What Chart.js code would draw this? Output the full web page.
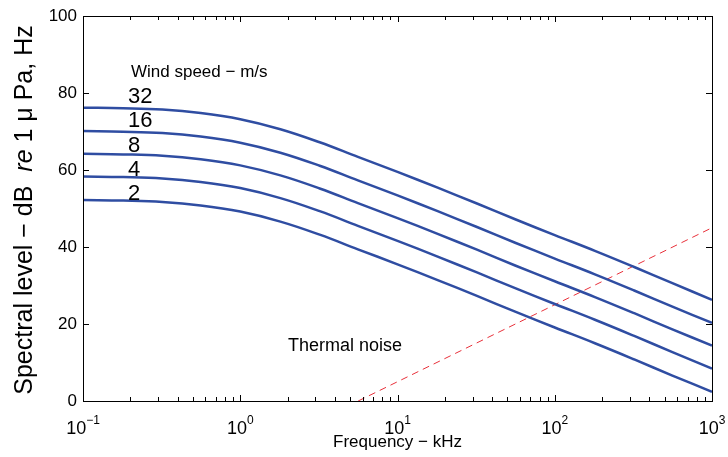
<!DOCTYPE html>
<html lang="en">
<head>
  <meta charset="UTF-8">
  <title>Wind noise spectra</title>
  <script src="https://cdn.jsdelivr.net/npm/chart.js"></script>
  <style>
    body { margin: 0; background: #fff; }
    canvas { display: block; }
  </style>
</head>
<body>
  <canvas id="chart" width="728" height="457"></canvas>

  <script>
    // frequencies in kHz (quarter-decade steps)
    const freqs = [0.1, 0.18, 0.32, 0.56, 1, 1.8, 3.2, 5.6, 10, 18, 32, 56, 100, 180, 320, 560, 1000];

    // spectral level (dB) per wind speed
    const wind32 = [76.2, 76.05, 75.7, 74.8, 73.2, 70.6, 67.2, 63.4, 59.5, 55.4, 51.3, 47.2, 43.1, 39.0, 34.8, 30.6, 26.3];
    const wind16 = [70.1, 69.95, 69.6, 68.7, 67.1, 64.5, 61.1, 57.3, 53.4, 49.3, 45.2, 41.1, 37.0, 32.9, 28.7, 24.5, 20.3];
    const wind8  = [64.2, 64.05, 63.7, 62.8, 61.2, 58.6, 55.2, 51.4, 47.5, 43.4, 39.3, 35.2, 31.1, 27.0, 22.8, 18.6, 14.4];
    const wind4  = [58.3, 58.15, 57.8, 56.9, 55.3, 52.7, 49.3, 45.5, 41.6, 37.5, 33.4, 29.3, 25.2, 21.1, 16.9, 12.7, 8.4];
    const wind2  = [52.2, 52.05, 51.7, 50.8, 49.2, 46.6, 43.2, 39.4, 35.5, 31.4, 27.3, 23.2, 19.1, 15.0, 10.8, 6.6, 2.4];

    const windLabels = ['32', '16', '8', '4', '2'];
    const windSeries = [wind32, wind16, wind8, wind4, wind2];

    const thermalFreqs = [5.62, 1000];
    const thermalLevels = [0, 45];

    const yTicks = [0, 20, 40, 60, 80, 100];
    const xDecades = [-1, 0, 1, 2, 3];

    const BLUE = '#2f4da2';
    const FONT = '"Liberation Sans", Arial, sans-serif';

    const pts = (xs, ys) => xs.map((x, i) => ({ x: x, y: ys[i] }));

    const datasets = windSeries.map((s, i) => ({
      label: windLabels[i] + ' m/s',
      data: pts(freqs, s),
      borderColor: BLUE,
      borderWidth: 2.5,
      pointRadius: 0,
      tension: 0.4
    }));
    datasets.push({
      label: 'Thermal noise',
      data: pts(thermalFreqs, thermalLevels),
      borderColor: '#e8303a',
      borderWidth: 1,
      borderDash: [7, 5],
      pointRadius: 0
    });

    // axes frame, ticks, labels and annotations in MATLAB style
    const decor = {
      id: 'decor',
      afterDraw(chart) {
        const ctx = chart.ctx;
        const a = chart.chartArea;
        const xs = chart.scales.x, ys = chart.scales.y;
        ctx.save();
        ctx.strokeStyle = '#000';
        ctx.lineWidth = 1;
        ctx.strokeRect(a.left + 0.5, a.top + 0.5, a.right - a.left, a.bottom - a.top);

        // x ticks (major + minor), inside on bottom and top
        ctx.beginPath();
        xDecades.forEach(d => {
          for (let m = 1; m <= 9; m++) {
            const v = m * Math.pow(10, d);
            if (v > 1000) break;
            const px = Math.round(xs.getPixelForValue(v)) + 0.5;
            const len = m === 1 ? 6 : 4;
            ctx.moveTo(px, a.bottom); ctx.lineTo(px, a.bottom - len);
            ctx.moveTo(px, a.top); ctx.lineTo(px, a.top + len);
          }
        });
        yTicks.forEach(v => {
          const py = Math.round(ys.getPixelForValue(v)) + 0.5;
          ctx.moveTo(a.left, py); ctx.lineTo(a.left + 6, py);
          ctx.moveTo(a.right, py); ctx.lineTo(a.right - 6, py);
        });
        ctx.stroke();

        ctx.fillStyle = '#000';
        // y tick labels
        ctx.font = '17px ' + FONT;
        ctx.textAlign = 'right';
        ctx.textBaseline = 'middle';
        yTicks.forEach(v => ctx.fillText(String(v), a.left - 6, ys.getPixelForValue(v)));

        // x tick labels with superscript exponents
        xDecades.forEach(d => {
          const px = xs.getPixelForValue(Math.pow(10, d));
          const ex = String(d).replace('-', '\u2212');
          ctx.font = '18px ' + FONT;
          const wb = ctx.measureText('10').width;
          ctx.font = '12px ' + FONT;
          const we = ctx.measureText(ex).width;
          const x0 = px - (wb + we) / 2;
          ctx.textAlign = 'left';
          ctx.textBaseline = 'alphabetic';
          ctx.font = '18px ' + FONT;
          ctx.fillText('10', x0, 434);
          ctx.font = '12px ' + FONT;
          ctx.fillText(ex, x0 + wb, 424);
        });

        // x title
        ctx.font = '17px ' + FONT;
        ctx.textAlign = 'center';
        ctx.textBaseline = 'middle';
        ctx.fillText('Frequency \u2212 kHz', (a.left + a.right) / 2, 442);

        // y title with italic "re"
        const parts = [
          ['Spectral level \u2212 dB  ', 'normal'],
          ['re', 'italic'],
          [' 1 \u03bc Pa, Hz', 'normal']
        ];
        ctx.save();
        ctx.translate(25, 210);
        ctx.rotate(-Math.PI / 2);
        ctx.textBaseline = 'middle';
        let total = 0;
        parts.forEach(p => { ctx.font = p[1] + ' 25px ' + FONT; total += ctx.measureText(p[0]).width; });
        let cx = -total / 2;
        ctx.textAlign = 'left';
        parts.forEach(p => {
          ctx.font = p[1] + ' 25px ' + FONT;
          ctx.fillText(p[0], cx, 0);
          cx += ctx.measureText(p[0]).width;
        });
        ctx.restore();

        // annotations
        ctx.textAlign = 'left';
        ctx.font = '17px ' + FONT;
        ctx.fillText('Wind speed \u2212 m/s', 131, 72);
        ctx.font = '22px ' + FONT;
        const labelY = [97, 121, 146, 170, 194];
        windLabels.forEach((t, i) => ctx.fillText(t, 128, labelY[i]));
        ctx.font = '18px ' + FONT;
        ctx.fillText('Thermal noise', 288, 346);
        ctx.restore();
      }
    };

    new Chart(document.getElementById('chart').getContext('2d'), {
      type: 'line',
      data: { datasets: datasets },
      options: {
        responsive: false,
        animation: false,
        layout: { padding: { left: 83, right: 16, top: 16, bottom: 56 } },
        plugins: { legend: { display: false }, tooltip: { enabled: false } },
        scales: {
          x: {
            type: 'logarithmic', min: 0.1, max: 1000,
            ticks: { display: false },
            grid: { display: false, drawTicks: false },
            border: { display: false }
          },
          y: {
            type: 'linear', min: 0, max: 100,
            ticks: { display: false },
            grid: { display: false, drawTicks: false },
            border: { display: false }
          }
        }
      },
      plugins: [decor]
    });
  </script>
</body>
</html>
